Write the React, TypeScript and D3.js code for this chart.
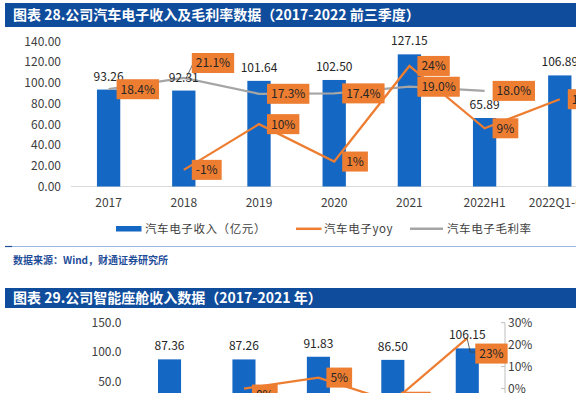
import React from 'react';
import * as d3 from 'd3';

// ---- chart 28 data ----
const years28 = ['2017', '2018', '2019', '2020', '2021', '2022H1', '2022Q1-Q3'];
const revenue28 = [93.26, 92.31, 101.64, 102.5, 127.15, 65.89, 106.89];
const yoy28 = [null, -1, 10, 1, 24, 9, 16];
const margin28 = [18.4, 21.1, 17.3, 17.4, 19.0, 18.0, null];
const ticks28 = [0, 20, 40, 60, 80, 100, 120, 140];

// ---- chart 29 data ----
const years29 = ['2017', '2018', '2019', '2020', '2021'];
const revenue29 = [87.36, 87.26, 91.83, 86.5, 106.15];
const yoy29 = [null, 0, 5, -6, 23];
const ticks29 = [0, 50, 100, 150];
const pctTicks29 = [-10, 0, 10, 20, 30];

const W = 576;
const H = 393;
const FONT = '"Noto Sans CJK SC", "Noto Sans", sans-serif';
const BLUE = '#1467c2';
const ORANGE = '#ed7d31';
const GREY = '#a5a5a5';
const TITLE_BG = '#0f4c9c';

let ctx: CanvasRenderingContext2D | null = null;
function textW(s: string, size = 12) {
  if (!ctx) ctx = document.createElement('canvas').getContext('2d');
  if (!ctx) return s.length * size * 0.6;
  ctx.font = `${size}px ${FONT}`;
  return ctx.measureText(s).width;
}

const fmt2 = d3.format('.2f');
const fmt1 = d3.format('.1f');

function LabelBox({ x, y, text }: { x: number; y: number; text: string }) {
  const w = textW(text) + 8;
  return (
    <g>
      <rect x={x} y={y - 10} width={w} height={20} fill={ORANGE} />
      <text x={x + w / 2} y={y + 4.5} textAnchor="middle" fontSize={12} fill="#262626">
        {text}
      </text>
    </g>
  );
}

function TitleBar({ y, h, text }: { y: number; h: number; text: string }) {
  return (
    <g>
      <rect x={5} y={y} width={W - 5} height={h} fill={TITLE_BG} />
      <text x={13} y={y + h / 2 + 5} fontSize={14} fontWeight="bold" fill="#fff">
        {text}
      </text>
    </g>
  );
}

function Chart28() {
  const x = d3.scaleBand().domain(years28).range([71, 597.4]).paddingInner(0.69).paddingOuter(0.345);
  const y = d3.scaleLinear().domain([0, 140]).range([186.5, 41]);
  const yr = d3.scaleLinear().domain([-5, 30]).range([186.5, 41]);
  const cx = (i: number) => (x(years28[i]) ?? 0) + x.bandwidth() / 2;

  const line = d3
    .line<number | null>()
    .defined(d => d != null)
    .x((_, i) => cx(i))
    .y(d => yr(d as number));

  // label nudges (manual in the original)
  const marginDy: Record<number, number> = { 1: -15 };

  return (
    <g>
      <TitleBar y={3} h={24} text="图表 28.公司汽车电子收入及毛利率数据（2017-2022 前三季度）" />
      {ticks28.map(t => (
        <text key={t} x={61} y={y(t) + 4.5} textAnchor="end" fontSize={12} fill="#404040">
          {fmt2(t)}
        </text>
      ))}
      <line x1={71} x2={W} y1={y(0)} y2={y(0)} stroke="#d9d9d9" strokeWidth={1} />
      {revenue28.map((v, i) => (
        <rect key={i} x={x(years28[i])} y={y(v)} width={x.bandwidth()} height={y(0) - y(v)} fill={BLUE} />
      ))}
      <path d={line(margin28) ?? ''} fill="none" stroke={GREY} strokeWidth={2.25} />
      <path d={line(yoy28) ?? ''} fill="none" stroke={ORANGE} strokeWidth={2.25} />
      {revenue28.map((v, i) => (
        <text key={i} x={cx(i)} y={y(v) - 9} textAnchor="middle" fontSize={12} fill="#262626">
          {fmt2(v)}
        </text>
      ))}
      <polyline
        points={`${cx(1) + 2},${yr(21.1) + 1} ${cx(1) + 9},${yr(21.1) - 14} ${cx(1) + 14},${yr(21.1) - 14}`}
        fill="none"
        stroke="#404040"
        strokeWidth={0.8}
      />
      {margin28.map((v, i) =>
        v == null ? null : (
          <LabelBox key={i} x={cx(i) + 8} y={yr(v) + (marginDy[i] ?? 0)} text={fmt1(v) + '%'} />
        )
      )}
      {yoy28.map((v, i) => (v == null ? null : <LabelBox key={i} x={cx(i) + 8} y={yr(v)} text={v + '%'} />))}
      {years28.map((c, i) => (
        <text key={c} x={cx(i)} y={207} textAnchor="middle" fontSize={12} fill="#404040">
          {c}
        </text>
      ))}
      {/* legend */}
      <g fontSize={11.5} fill="#404040" letterSpacing={0.6}>
        <rect x={116} y={226} width={25.5} height={5.5} fill={BLUE} />
        <text x={145} y={232.5}>汽车电子收入（亿元）</text>
        <line x1={296} x2={321.5} y1={228.8} y2={228.8} stroke={ORANGE} strokeWidth={2.5} />
        <text x={324} y={232.5}>汽车电子yoy</text>
        <line x1={410} x2={443} y1={228.8} y2={228.8} stroke={GREY} strokeWidth={2.5} />
        <text x={447} y={232.5}>汽车电子毛利率</text>
      </g>
      <line x1={5} x2={W} y1={246.5} y2={246.5} stroke="#9bb7dc" strokeWidth={1} />
      <line x1={5} x2={12} y1={246.5} y2={246.5} stroke="#1f4e99" strokeWidth={1.2} />
      <text x={13} y={264} fontSize={10} fontWeight="bold" fill="#1f4e99">
        数据来源：Wind，财通证券研究所
      </text>
    </g>
  );
}

function Chart29() {
  const x = d3.scaleBand().domain(years29).range([132.3, 504.5]).paddingInner(0.69).paddingOuter(0.345);
  const y = d3.scaleLinear().domain([0, 150]).range([410.5, 322.7]);
  const yr = d3.scaleLinear().domain([-10, 30]).range([410.5, 322.7]);
  const cx = (i: number) => (x(years29[i]) ?? 0) + x.bandwidth() / 2;

  const line = d3
    .line<number | null>()
    .defined(d => d != null)
    .x((_, i) => cx(i))
    .y(d => yr(d as number));

  const yoyDy: Record<number, number> = { 1: 6, 4: 15.5 };

  return (
    <g>
      <TitleBar y={288} h={20} text="图表 29.公司智能座舱收入数据（2017-2021 年）" />
      {ticks29.map(t => (
        <text key={t} x={121.5} y={y(t) + 4.5} textAnchor="end" fontSize={12} fill="#404040">
          {fmt1(t)}
        </text>
      ))}
      <line x1={505} x2={505} y1={yr(30)} y2={yr(-10)} stroke="#bfbfbf" strokeWidth={1} />
      {pctTicks29.map(t => (
        <g key={t}>
          <line x1={501} x2={505} y1={yr(t)} y2={yr(t)} stroke="#bfbfbf" strokeWidth={1} />
          <text x={508} y={yr(t) + 4.5} fontSize={12} fill="#404040">
            {t}%
          </text>
        </g>
      ))}
      {revenue29.map((v, i) => (
        <rect key={i} x={x(years29[i])} y={y(v)} width={x.bandwidth()} height={y(0) - y(v)} fill={BLUE} />
      ))}
      <path d={line(yoy29) ?? ''} fill="none" stroke={ORANGE} strokeWidth={2.25} />
      {revenue29.map((v, i) => (
        <text key={i} x={cx(i)} y={y(v) - 9} textAnchor="middle" fontSize={12} fill="#262626">
          {fmt2(v)}
        </text>
      ))}
      <polyline
        points={`${cx(4)},${yr(23) + 1} ${cx(4) + 3},${yr(23) + 14} ${cx(4) + 10},${yr(23) + 14}`}
        fill="none"
        stroke="#404040"
        strokeWidth={0.8}
      />
      {yoy29.map((v, i) =>
        v == null ? null : <LabelBox key={i} x={cx(i) + 8} y={yr(v) + (yoyDy[i] ?? 0)} text={v + '%'} />
      )}
    </g>
  );
}

export default function App() {
  return (
    <svg
      width={W}
      height={H}
      style={{ position: 'absolute', left: 0, top: 0, background: '#fff' }}
      fontFamily={FONT}
    >
      <rect width={W} height={H} fill="#fff" />
      <Chart28 />
      <Chart29 />
    </svg>
  );
}
